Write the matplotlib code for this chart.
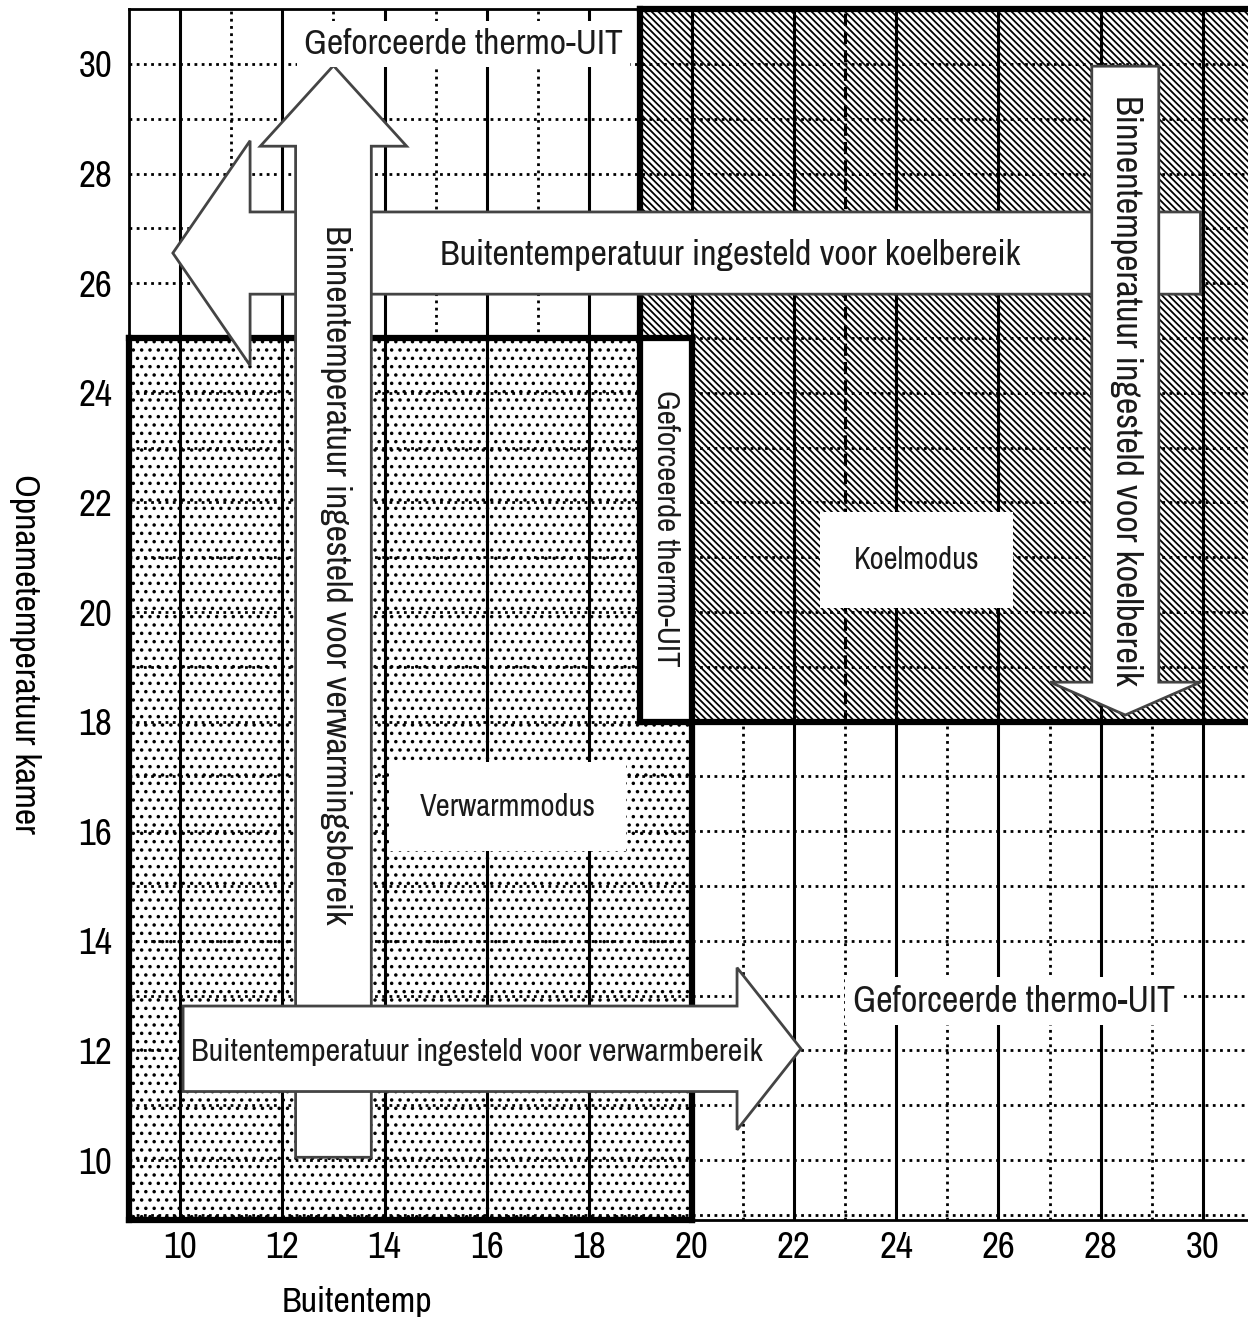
import numpy as np
import matplotlib.pyplot as plt
from matplotlib import font_manager
from matplotlib.patches import Rectangle, Polygon

# pick a narrow sans font if one is installed
installed = {f.name for f in font_manager.fontManager.ttflist}
narrow = [n for n in ['Arial Narrow', 'Liberation Sans Narrow', 'Archivo Narrow', 'PT Sans Narrow',
                      'Roboto Condensed', 'Fira Sans Condensed', 'IBM Plex Sans Condensed',
                      'Encode Sans Condensed'] if n in installed]
plt.rcParams['font.family'] = narrow[:1] + ['DejaVu Sans']
plt.rcParams['hatch.linewidth'] = 1.3

# axis ranges and ticks
x_range = [9, 31]
y_range = [8.9, 31]
x_ticks = [10, 12, 14, 16, 18, 20, 22, 24, 26, 28, 30]
y_ticks = [10, 12, 14, 16, 18, 20, 22, 24, 26, 28, 30]

# regions (x0, x1, y0, y1)
heat_region = [9, 20, 8.9, 25]
cool_region = [19, 31, 18, 31]
thermo_box = [19, 20, 18, 25]

# arrows: centre, shaft half width, head half width, start, head base, tip
heat_in_arrow = [13.0, 0.74, 1.43, 10.05, 28.5, 29.97]     # vertical, up
cool_in_arrow = [28.48, 0.655, 1.47, 29.96, 18.72, 18.12]  # vertical, down
cool_out_arrow = [26.55, 0.75, 2.05, 29.95, 11.37, 9.86]   # horizontal, left
heat_out_arrow = [12.03, 0.78, 1.48, 10.06, 20.89, 22.14]  # horizontal, right

# labels
heat_in_label = 'Binnentemperatuur ingesteld voor verwarmingsbereik'
cool_in_label = 'Binnentemperatuur ingesteld voor koelbereik'
cool_out_label = 'Buitentemperatuur ingesteld voor koelbereik'
heat_out_label = 'Buitentemperatuur ingesteld voor verwarmbereik'
thermo_label = 'Geforceerde thermo-UIT'


def arrow_points(a, vertical):
    c, sw, hw, start, base, tip = a
    pts = [(c - sw, start), (c - sw, base), (c - hw, base), (c, tip),
           (c + hw, base), (c + sw, base), (c + sw, start)]
    if not vertical:
        pts = [(p[1], p[0]) for p in pts]
    return pts


def fit(t, length_px):
    """scale the font so the text is about length_px long"""
    r = fig.canvas.get_renderer()
    bb = t.get_window_extent(renderer=r)
    cur = max(bb.width, bb.height)
    t.set_fontsize(t.get_fontsize() * length_px / cur)


fig = plt.figure(figsize=(12.48, 13.17), dpi=100)
ax = fig.add_axes([0.10325, 0.07342, 0.9017, 0.9196])
ax.set_xlim(x_range)
ax.set_ylim(y_range)
for s in ax.spines.values():
    s.set_visible(False)

# dotted grid at odd x (hidden under hatched regions)
for x in range(x_range[0] + 2, x_range[1], 2):
    ax.plot([x, x], y_range, color='black', lw=2, ls=(0, (1, 1.6)), zorder=0.5)

# hatched regions
hx0, hx1, hy0, hy1 = heat_region
ax.add_patch(Rectangle((hx0, hy0), hx1 - hx0, hy1 - hy0, facecolor='white',
                       edgecolor='black', lw=0, hatch='..', zorder=1))
cx0, cx1, cy0, cy1 = cool_region
ax.add_patch(Rectangle((cx0, cy0), cx1 - cx0, cy1 - cy0, facecolor='white',
                       edgecolor='black', lw=0, hatch='\\\\\\\\\\', zorder=1))

# solid lines at even x, dotted horizontal lines
for x in range(10, 31, 2):
    ax.plot([x, x], y_range, color='black', lw=2.2, zorder=2)
for y in range(9, 31):
    ax.plot(x_range, [y, y], color='black', lw=2, ls=(0, (1, 1.6)), zorder=2)
ax.plot([23, 23], [cy0, cy1], color='black', lw=2.2, ls=(0, (4, 2)), zorder=2)

# white thermo-UIT box between the two modes
tx0, tx1, ty0, ty1 = thermo_box
ax.add_patch(Rectangle((tx0, ty0), tx1 - tx0, ty1 - ty0, facecolor='white',
                       lw=0, zorder=2.5))

# region borders
thick = dict(color='black', lw=4.5, zorder=3, clip_on=False, solid_capstyle='projecting')
ax.plot([hx0, hx1], [hy1, hy1], **thick)
ax.plot([hx0, hx0], [hy0, hy1], **thick)
ax.plot([hx1, hx1], [hy0, hy1], **thick)
ax.plot([hx0, hx1], [hy0, hy0], **thick)
ax.plot([cx0, cx0], [cy0, cy1], **thick)
ax.plot([cx0, cx1], [cy0, cy0], **thick)
ax.plot([cx0, cx1], [cy1, cy1], **thick)
thin = dict(color='black', lw=2, zorder=3, clip_on=False)
ax.plot([hx0, hx0], [hy1, y_range[1]], **thin)
ax.plot([hx0, cx0], [y_range[1], y_range[1]], **thin)
ax.plot([hx1, x_range[1]], [y_range[0], y_range[0]], **thin)

# arrows
arrow_style = dict(facecolor='white', edgecolor='#444444', lw=2, joinstyle='miter')
ax.add_patch(Polygon(arrow_points(cool_out_arrow, False), zorder=4, **arrow_style))
ax.add_patch(Polygon(arrow_points(heat_in_arrow, True), zorder=4.1, **arrow_style))
ax.add_patch(Polygon(arrow_points(cool_in_arrow, True), zorder=4.1, **arrow_style))
ax.add_patch(Polygon(arrow_points(heat_out_arrow, False), zorder=4.2, **arrow_style))

txt = dict(color='#1a1a1a', zorder=6, ha='center', va='center', fontsize=20)
t1 = ax.text(13.05, 20.67, heat_in_label, rotation=-90, **txt)
t2 = ax.text(28.5, 24.05, cool_in_label, rotation=-90, **txt)
t3 = ax.text(20.75, 26.51, cool_out_label, **txt)
t4 = ax.text(15.8, 11.97, heat_out_label, **txt)
t5 = ax.text(19.5, 21.53, thermo_label, rotation=-90, **txt)

box = dict(facecolor='white', edgecolor='none', pad=4)
t6 = ax.text(15.55, 30.36, thermo_label, bbox=box, **txt)
t7 = ax.text(26.3, 12.9, thermo_label, bbox=box, **txt)
t8 = ax.text(16.4, 16.45, 'Verwarmmodus',
             bbox=dict(facecolor='white', edgecolor='none', pad=20), **txt)
t9 = ax.text(24.4, 20.95, 'Koelmodus',
             bbox=dict(facecolor='white', edgecolor='none', pad=22), **txt)

# ticks and axis labels
ax.set_xticks(x_ticks)
ax.set_yticks(y_ticks)
ax.tick_params(length=0, labelsize=20)
ax.tick_params(axis='y', pad=12)
ax.tick_params(axis='x', pad=8)
ax.set_xlabel('Buitentemp', fontsize=20)
ax.set_ylabel('Opnametemperatuur kamer', fontsize=20, rotation=-90, va='center')

fig.canvas.draw()
for t, w in [(t1, 700), (t2, 590), (t3, 580), (t4, 572), (t5, 276),
             (t6, 319), (t7, 322), (t8, 175), (t9, 125)]:
    fit(t, w)
r = fig.canvas.get_renderer()
lab = ax.yaxis.get_ticklabels()[-1]
tick_size = 20 * 34 / lab.get_window_extent(renderer=r).width
ax.tick_params(labelsize=tick_size)
fit(ax.xaxis.label, 150)
fit(ax.yaxis.label, 360)
ax.xaxis.set_label_coords(0.203, -0.054)
ax.yaxis.set_label_coords(-0.092, 0.468)

fig.savefig('out.png', dpi=100)
